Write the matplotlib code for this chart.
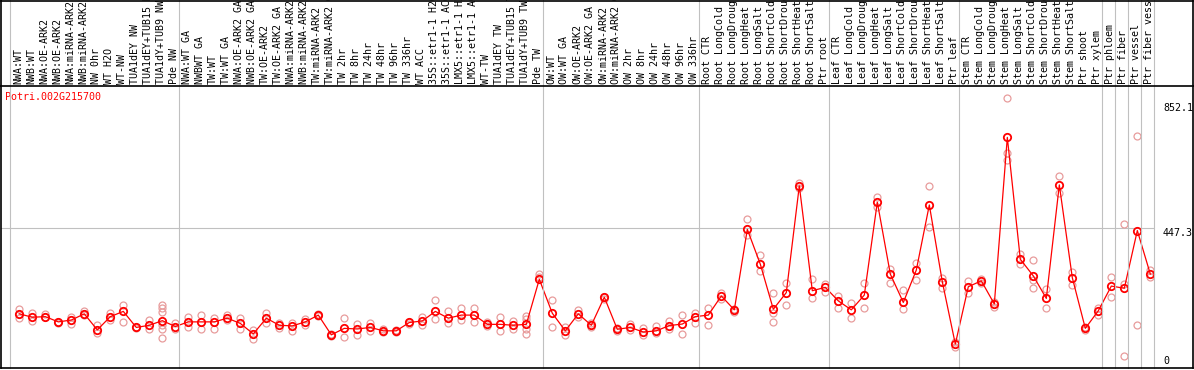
import matplotlib
matplotlib.use("Agg")
from matplotlib import pyplot as plt
from matplotlib.lines import Line2D
from matplotlib import transforms

gene = "Potri.002G215700"

names = [
    "NWA:WT", "NWB:WT", "NWA:OE-ARK2", "NWB:OE-ARK2", "NWA:miRNA-ARK2", "NWB:miRNA-ARK2",
    "NW 0hr", "WT H2O", "WT-NW", "TUA1dEY NW", "TUA1dEY+TUB15 NW", "TUA1dY+TUB9 NW", "Pde NW",
    "NWA:WT GA", "NWBWT GA", "TW:WT", "TW:WT GA", "NWA:OE-ARK2 GA", "NWB:OE-ARK2 GA",
    "TW:OE-ARK2", "TW:OE-ARK2 GA", "NWA:miRNA-ARK2 GA", "NWB:miRNA-ARK2 GA", "TW:miRNA-ARK2",
    "TW:miRNA-ARK2 GA", "TW 2hr", "TW 8hr", "TW 24hr", "TW 48hr", "TW 96hr", "TW 336hr",
    "WT ACC", "35S::etr1-1 H2O", "35S::etr1-1 ACC", "LMX5::etr1-1 H2O", "LMX5::etr1-1 ACC",
    "WT-TW", "TUA1dEY TW", "TUA1dEY+TUB15 TW", "TUA1dY+TUB9 TW", "Pde TW",
    "OW:WT", "OW:WT GA", "OW:OE-ARK2", "OW:OE-ARK2 GA", "OW:miRNA-ARK2", "OW:miRNA-ARK2 GA",
    "OW 2hr", "OW 8hr", "OW 24hr", "OW 48hr", "OW 96hr", "OW 336hr",
    "Root CTR", "Root LongCold", "Root LongDrought", "Root LongHeat", "Root LongSalt",
    "Root ShortCold", "Root ShortDrought", "Root ShortHeat", "Root ShortSalt", "Ptr root",
    "Leaf CTR", "Leaf LongCold", "Leaf LongDrought", "Leaf LongHeat", "Leaf LongSalt",
    "Leaf ShortCold", "Leaf ShortDrought", "Leaf ShortHeat", "Leaf ShortSalt", "Ptr leaf",
    "Stem CTR", "Stem LongCold", "Stem LongDrought", "Stem LongHeat", "Stem LongSalt",
    "Stem ShortCold", "Stem ShortDrought", "Stem ShortHeat", "Stem ShortSalt", "Ptr shoot",
    "Ptr xylem", "Ptr phloem", "Ptr fiber", "Ptr vessel", "Ptr fiber vessel",
]
group_sizes = [13, 28, 12, 10, 10, 11, 1, 1, 1, 1]

means = [
    169, 158, 160, 143, 149, 169, 117, 160, 177, 125, 132, 147, 128,
    143, 143, 143, 155, 138, 104, 155, 132, 130, 143, 165, 101, 122, 120, 125,
    114, 114, 141, 146, 177, 155, 165, 165, 135, 135, 132, 135, 281,
    171, 114, 169, 132, 223, 119, 125, 110, 114, 131, 136, 160,
    165, 227, 182, 443, 330, 184, 238, 584, 244, 255,
    211, 182, 230, 531, 298, 206, 311, 522, 273, 71,
    257, 276, 201, 741, 346, 292, 219, 587, 286, 122, 179,
    259, 252, 439, 298,
]

reps = [
    [184, 169, 155], [171, 147], [169, 158], [143, 140], [158, 136], [179, 165],
    [133, 106], [171, 149], [198, 142], [127, 122], [149, 120],
    [198, 187, 176, 133, 119, 90], [138, 120],
    [160, 125], [164, 119], [154, 119], [165, 149], [154, 119], [117, 86],
    [171, 140], [140, 122], [140, 114], [151, 133], [168, 162], [103, 98],
    [154, 95], [136, 100], [138, 114], [120, 109], [117, 111], [143, 136],
    [158, 132], [214, 151], [178, 138], [189, 149], [189, 144], [143, 130],
    [160, 114], [146, 119], [162, 151, 120, 104], [298, 289],
    [214, 125], [127, 100], [181, 160], [140, 125], [223, 218], [122, 114],
    [136, 117], [122, 100], [130, 106], [147, 119], [165, 104], [173, 138],
    [187, 133], [238, 216], [184, 176], [475, 425], [360, 309], [238, 173, 142],
    [268, 197], [592, 576], [282, 219], [266, 241],
    [227, 189], [203, 154], [268, 189], [549, 514], [313, 270], [246, 184],
    [333, 279], [584, 450], [284, 252], [79, 62],
    [277, 236], [281, 270], [208, 192], [868, 689, 668], [363, 330],
    [344, 279, 252], [249, 187], [616, 560], [306, 263], [128, 116], [187, 165],
    [288, 223], [460, 266, 32], [746, 133], [311, 289],
]

ytick_vals = [852.1, 447.3, 0]

W, H = 1194, 370
fig = plt.figure(figsize=(W / 100, H / 100), dpi=100)
ax = fig.add_axes([1 / W, 2 / H, 1154 / W, 282 / H])
ax.set_xlim(-1.408, 87.36)
ax.set_ylim(-6.5, 907.6)
ax.set_axis_off()

mono = "DejaVu Sans Mono"
x = list(range(len(names)))

# group separators over the whole height
xfig = transforms.blended_transform_factory(ax.transData, fig.transFigure)
pos = 0
bounds = [0]
for g in group_sizes:
    pos += g
    bounds.append(pos)
for b in bounds:
    fig.add_artist(Line2D([b - 0.715, b - 0.715], [2 / H, 1], transform=xfig,
                          color="#c0c0c0", lw=0.8))

ax.axhline(447.3, color="#c0c0c0", lw=0.8, zorder=0)

# replicates
for i, r in enumerate(reps):
    ax.plot([i] * len(r), r, "o", ms=5.0, mfc="none", mec="#e89c9c", mew=0.9,
            zorder=2, clip_on=False)

ax.plot(x, means, "-", color="red", lw=0.9, zorder=3)
ax.plot(x, means, "o", ms=5.3, mfc="none", mec="red", mew=1.3, zorder=4)

# condition labels above the plot
for i, n in enumerate(names):
    fig.text(0, (H - 84) / H, n, transform=xfig, rotation=90, ha="center", va="bottom",
             fontsize=7.2, family=mono, color="black")
    fig.texts[-1].set_x(i - 0.08)

ax.text(4 / 1154, 1 - 11 / 282, gene, transform=ax.transAxes, color="red",
        fontsize=7.2, family=mono, ha="left", va="center")

yt = transforms.blended_transform_factory(fig.transFigure, ax.transData)
for v in ytick_vals:
    lab = "0" if v == 0 else f"{v:.1f}"
    ax.text(1163 / W, v, lab, transform=yt, ha="left",
            va="bottom" if v == 0 else "top", fontsize=7.2, family=mono, clip_on=False)

# outer frame and separator under the labels
for xs, ys in [([1, 1193], [H - 1, H - 1]), ([1, 1193], [H - 368, H - 368]),
               ([1, 1], [H - 368, H]), ([1193, 1193], [H - 368, H]),
               ([0, 1194], [H - 86, H - 86])]:
    fig.add_artist(Line2D([a / W for a in xs], [b / H for b in ys],
                          transform=fig.transFigure, color="black", lw=1.2))

fig.savefig("out.png", dpi=100)
